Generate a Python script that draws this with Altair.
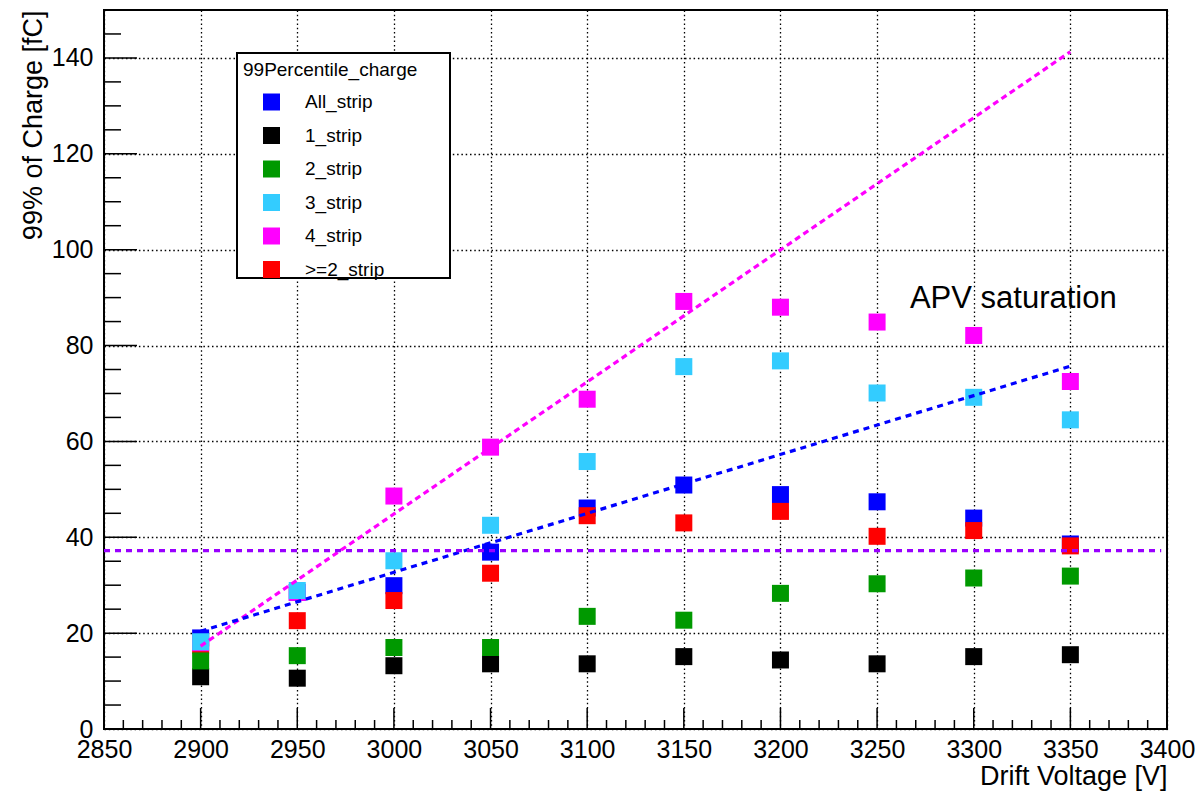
import altair as alt
import pandas as pd

# ---------------- data ----------------
voltages = [2900, 2950, 3000, 3050, 3100, 3150, 3200, 3250, 3300, 3350]
all_strip = [19.0, 28.5, 29.9, 36.9, 46.1, 50.9, 48.9, 47.4, 44.0, 38.6]
strip_1 = [10.9, 10.6, 13.2, 13.6, 13.6, 15.1, 14.4, 13.6, 15.1, 15.5]
strip_2 = [14.2, 15.3, 17.0, 17.0, 23.5, 22.7, 28.3, 30.3, 31.5, 31.9]
strip_3 = [18.2, 28.9, 35.1, 42.5, 55.8, 75.6, 76.8, 70.1, 69.2, 64.5]
strip_4 = [18.0, 28.5, 48.6, 58.8, 68.8, 89.2, 88.0, 84.9, 82.1, 72.5]
strip_ge2 = [17.5, 22.6, 26.8, 32.5, 44.5, 43.0, 45.4, 40.2, 41.4, 38.2]

series_names = ["All_strip", "1_strip", "2_strip", "3_strip", "4_strip", ">=2_strip"]
series_colors = ["#0000ff", "#000000", "#009900", "#33ccff", "#ff00ff", "#ff0000"]
# drawing order (later = on top)
draw_order = ["All_strip", ">=2_strip", "4_strip", "1_strip", "2_strip", "3_strip"]
series_values = {
    "All_strip": all_strip, "1_strip": strip_1, "2_strip": strip_2,
    "3_strip": strip_3, "4_strip": strip_4, ">=2_strip": strip_ge2,
}

fit_x = [2900, 3350]
fit_4strip = [17.3, 141.3]
fit_all = [20.4, 75.7]
sat_x = [2850, 3397]
sat_level = [37.2, 37.2]

x_major = list(range(2850, 3401, 50))
x_minor = [v for v in range(2850, 3401, 10) if v % 50]
y_major = list(range(0, 141, 20))
y_minor = [v for v in range(0, 150, 5) if v % 20]

annot_x = [3267]
annot_y = [87.9]
annot_text = ["APV saturation"]

# ---------------- layout ----------------
W, H = 1063, 719
FONT = "Liberation Sans, Arial, Helvetica, sans-serif"

xscale = alt.Scale(domain=[2850, 3400], nice=False, zero=False)
yscale = alt.Scale(domain=[0, 150], nice=False, zero=True)

xaxis = alt.Axis(values=x_major, format="d", grid=True, gridColor="black",
                 gridDash=[1.5, 2.8], gridWidth=1.3, ticks=False, domain=False,
                 labelFontSize=25, labelFont=FONT, labelColor="black", labelPadding=8,
                 labelFlush=False, labelOverlap=False,
                 title="Drift Voltage [V]", titleFont=FONT, titleFontSize=27,
                 titleFontWeight="normal", titleColor="black", titleAlign="right",
                 titleX=W, titleY=55, titleBaseline="alphabetic")
yaxis = alt.Axis(values=y_major, format="d", grid=True, gridColor="black",
                 gridDash=[1.5, 2.8], gridWidth=1.3, ticks=False, domain=False,
                 labelFontSize=25, labelFont=FONT, labelColor="black", labelPadding=11,
                 labelFlush=False, labelOverlap=False,
                 title="99% of Charge [fC]", titleFont=FONT, titleFontSize=27,
                 titleFontWeight="normal", titleColor="black", titleAngle=270,
                 titleAlign="right", titleX=-71, titleY=0, titleBaseline="middle")


def X(field):
    return alt.X(field, type="quantitative", scale=xscale, axis=xaxis)


def Y(field):
    return alt.Y(field, type="quantitative", scale=yscale, axis=yaxis)


rows = []
for name in draw_order:
    for v, q in zip(voltages, series_values[name]):
        rows.append({"V": v, "Q": q, "series": name})
points_df = pd.DataFrame(rows)

points = alt.Chart(points_df).mark_square(size=289, filled=True, opacity=1).encode(
    x=X("V"), y=Y("Q"),
    color=alt.Color("series:N",
                    scale=alt.Scale(domain=series_names, range=series_colors),
                    legend=alt.Legend(orient="none", legendX=139, legendY=51,
                                      title="99Percentile_charge", titleFont=FONT,
                                      titleFontSize=19, titleFontWeight="normal",
                                      titleColor="black", titlePadding=12.5,
                                      labelFont=FONT, labelFontSize=19, labelColor="black",
                                      symbolType="square", symbolSize=289,
                                      symbolStrokeWidth=0, symbolOpacity=1,
                                      symbolOffset=19, labelOffset=24,
                                      rowPadding=13.5, padding=0)),
)

fit4_df = pd.DataFrame({"V": fit_x, "Q": fit_4strip})
fitall_df = pd.DataFrame({"V": fit_x, "Q": fit_all})
sat_df = pd.DataFrame({"V": sat_x, "Q": sat_level})

fit4 = alt.Chart(fit4_df).mark_line(color="#ff00ff", strokeWidth=3.2, strokeDash=[6, 4]).encode(
    x=X("V"), y=Y("Q"))
fitall = alt.Chart(fitall_df).mark_line(color="#0000ff", strokeWidth=3.2, strokeDash=[6, 5]).encode(
    x=X("V"), y=Y("Q"))
sat = alt.Chart(sat_df).mark_line(color="#9900ff", strokeWidth=3.2, strokeDash=[6, 5]).encode(
    x=X("V"), y=Y("Q"))

# inward tick marks
xmaj = alt.Chart(pd.DataFrame({"v": x_major})).mark_rule(color="black", strokeWidth=1.5).encode(
    x=X("v"), y=alt.value(H), y2=alt.value(H - 21))
xmin = alt.Chart(pd.DataFrame({"v": x_minor})).mark_rule(color="black", strokeWidth=1.5).encode(
    x=X("v"), y=alt.value(H), y2=alt.value(H - 9))
ymaj = alt.Chart(pd.DataFrame({"v": y_major})).mark_rule(color="black", strokeWidth=1.5).encode(
    y=Y("v"), x=alt.value(0), x2=alt.value(33))
ymin = alt.Chart(pd.DataFrame({"v": y_minor})).mark_rule(color="black", strokeWidth=1.5).encode(
    y=Y("v"), x=alt.value(0), x2=alt.value(17))

annot = alt.Chart(pd.DataFrame({"V": annot_x, "Q": annot_y, "t": annot_text})).mark_text(
    font=FONT, fontSize=31, align="left", baseline="alphabetic", color="black").encode(
    x=X("V"), y=Y("Q"), text="t:N")

legend_box = alt.Chart(alt.Data(values=[{"a": 1}])).mark_rect(
    fill="white", stroke="black", strokeWidth=2).encode(
    x=alt.value(133), x2=alt.value(346), y=alt.value(43), y2=alt.value(268))

chart = alt.layer(
    xmaj, xmin, ymaj, ymin, points, fit4, fitall, sat, annot, legend_box
).properties(
    width=W, height=H,
    autosize=alt.AutoSizeParams(type="none"),
    padding={"left": 104, "top": 10, "right": 1199 - 104 - W, "bottom": 792 - 10 - H},
    background="white",
).configure_view(stroke="black", strokeWidth=2)

chart.save("out.html", embed_options={"renderer": "svg", "actions": False})
